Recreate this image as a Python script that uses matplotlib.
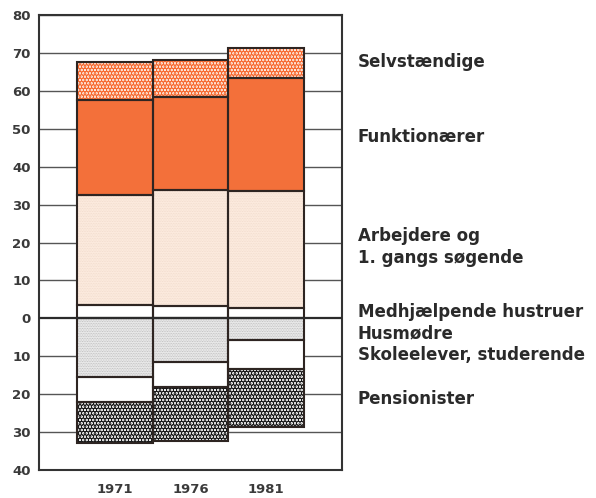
import numpy as np
import matplotlib
matplotlib.use("Agg")
import matplotlib.pyplot as plt

years = ['1971', '1976', '1981']

# above zero (bottom to top)
medhjaelpende = [3.5, 3.2, 2.7]
arbejdere = [29.0, 30.6, 31.0]
funktionaerer = [25.0, 24.6, 29.6]
selvstaendige = [10.0, 9.8, 8.0]

# below zero (top to bottom)
husmoedre = [15.5, 11.5, 5.8]
skoleelever = [6.5, 6.5, 7.5]
pensionister = [11.0, 14.3, 15.4]

labels = ['Selvstændige', 'Funktionærer', 'Arbejdere og\n1. gangs søgende',
          'Medhjælpende hustruer', 'Husmødre', 'Skoleelever, studerende',
          'Pensionister']

plt.rcParams['font.family'] = ['DejaVu Sans']

fig = plt.figure(figsize=(5.96, 4.98), dpi=100)
ax = fig.add_axes([0.0654, 0.0562, 0.5084, 0.9137])

x = np.arange(len(years))
edge = '#2e2522'


def seg(bottom, height, face, hatch=None, hcolor=None, hlw=1.0):
    if hatch:
        with plt.rc_context({'hatch.linewidth': hlw}):
            ax.bar(x, height, width=1.0, bottom=bottom, color=face, hatch=hatch,
                   edgecolor=hcolor, linewidth=0, zorder=2)
    else:
        ax.bar(x, height, width=1.0, bottom=bottom, color=face, linewidth=0, zorder=2)
    ax.bar(x, height, width=1.0, bottom=bottom, fill=False, edgecolor=edge,
           linewidth=1.5, zorder=3)


b = np.zeros(3)
seg(b, medhjaelpende, 'white')
b = b + medhjaelpende
seg(b, arbejdere, '#fcebdf', '..........', '#efd8c8', 0.4)
b = b + arbejdere
seg(b, funktionaerer, '#f3703a')
b = b + funktionaerer
seg(b, selvstaendige, '#fdf6f1', '.....', '#f7662a', 2.3)

b = np.zeros(3)
b = b - husmoedre
seg(b, husmoedre, '#eeeeee', '..........', '#b5b5b5', 0.5)
b = b - skoleelever
seg(b, skoleelever, 'white')
b = b - pensionister
seg(b, pensionister, 'white', '.....', '#1a1a1a', 2.4)

ax.set_xlim(-1, 3)
ax.set_ylim(-40, 80)
ticks = np.arange(-40, 81, 10)
ax.set_yticks(ticks)
ax.set_yticklabels([str(abs(t)) for t in ticks])
ax.set_xticks(x)
ax.set_xticklabels(years)
ax.tick_params(length=0, labelsize=9.5, colors='#3a3a3a', pad=6)
ax.tick_params(axis='x', pad=9)
for t in ax.get_yticklabels() + ax.get_xticklabels():
    t.set_fontweight('bold')

for t in ticks:
    if t == 0:
        ax.axhline(0, color='#2b2b2b', lw=1.6, zorder=4)
    else:
        ax.axhline(t, color='#555555', lw=1.0, zorder=1)

for sp in ax.spines.values():
    sp.set_color('#333333')
    sp.set_linewidth(1.5)

label_y = [67.7, 47.9, 18.8, 1.6, -4.0, -9.8, -21.2]
for lab, ly in zip(labels, label_y):
    ax.text(3.21, ly, lab, fontsize=12, fontweight='bold', color='#2a2a2a',
            va='center', ha='left', clip_on=False, linespacing=1.25)

fig.savefig('out.png', dpi=100)
